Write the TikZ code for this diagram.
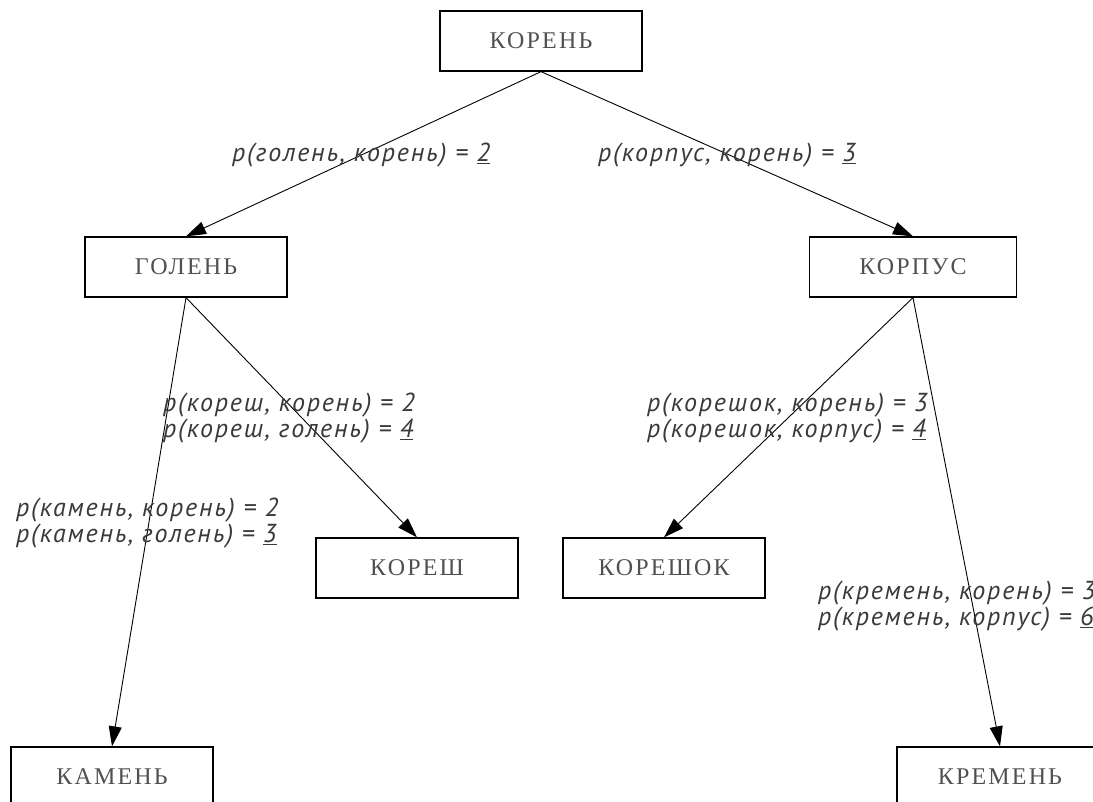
\documentclass[tikz,border=0pt]{standalone}
\usepackage{fontspec}
\newfontfamily\lblfont[LetterSpace=7]{PT Sans}
\newfontfamily\boxfont[LetterSpace=9]{Liberation Serif}
\usetikzlibrary{arrows.meta}
\definecolor{boxtext}{HTML}{505050}
\definecolor{lbltext}{HTML}{3A3A3A}
\tikzset{
  wbox/.style={draw=black, line width=1.3pt, minimum width=202pt, minimum height=60pt, inner sep=0pt,
    font=\boxfont\fontsize{24}{28}\selectfont, text=boxtext},
  edge/.style={line width=0.9pt, -{Triangle[length=20pt,width=13pt]}},
  lbl/.style={anchor=west, align=left, inner sep=0pt, text=lbltext,
    font=\lblfont\itshape\fontsize{26}{26.5}\selectfont}
}
\begin{document}
\begin{tikzpicture}[x=1pt,y=-1pt]
\useasboundingbox (0,0) rectangle (1093,802);
\clip (0,0) rectangle (1093,802);
\node[wbox] (koren) at (541,41) {КОРЕНЬ};
\node[wbox] (golen) at (186,267) {ГОЛЕНЬ};
\node[wbox, minimum width=207pt] (korpus) at (913,267) {КОРПУС};
\node[wbox] (koresh) at (417,568) {КОРЕШ};
\node[wbox] (koreshok) at (664,568) {КОРЕШОК};
\node[wbox] (kamen) at (112,777) {КАМЕНЬ};
\node[wbox, minimum width=206pt] (kremen) at (1000,777) {КРЕМЕНЬ};

\draw[edge] (koren.south) -- (golen.north);
\draw[edge] (koren.south) -- (korpus.north);
\draw[edge] (golen.south) -- (kamen.north);
\draw[edge] (golen.south) -- (koresh.north);
\draw[edge] (korpus.south) -- (koreshok.north);
\draw[edge] (korpus.south) -- (kremen.north);

\node[lbl] (l1) at (232,155) {р(голень, корень) = \underline{2}};
\node[lbl] (l2) at (598,155) {р(корпус, корень) = \underline{3}};
\node[lbl] (l3) at (163,418) {р(кореш, корень) = 2\\р(кореш, голень) = \underline{4}};
\node[lbl] (l4) at (647,418) {р(корешок, корень) = 3\\р(корешок, корпус) = \underline{4}};
\node[lbl] (l5) at (16,523) {р(камень, корень) = 2\\р(камень, голень) = \underline{3}};
\node[lbl] (l6) at (818,606) {р(кремень, корень) = 3\\р(кремень, корпус) = \underline{6}};
\end{tikzpicture}
\end{document}
